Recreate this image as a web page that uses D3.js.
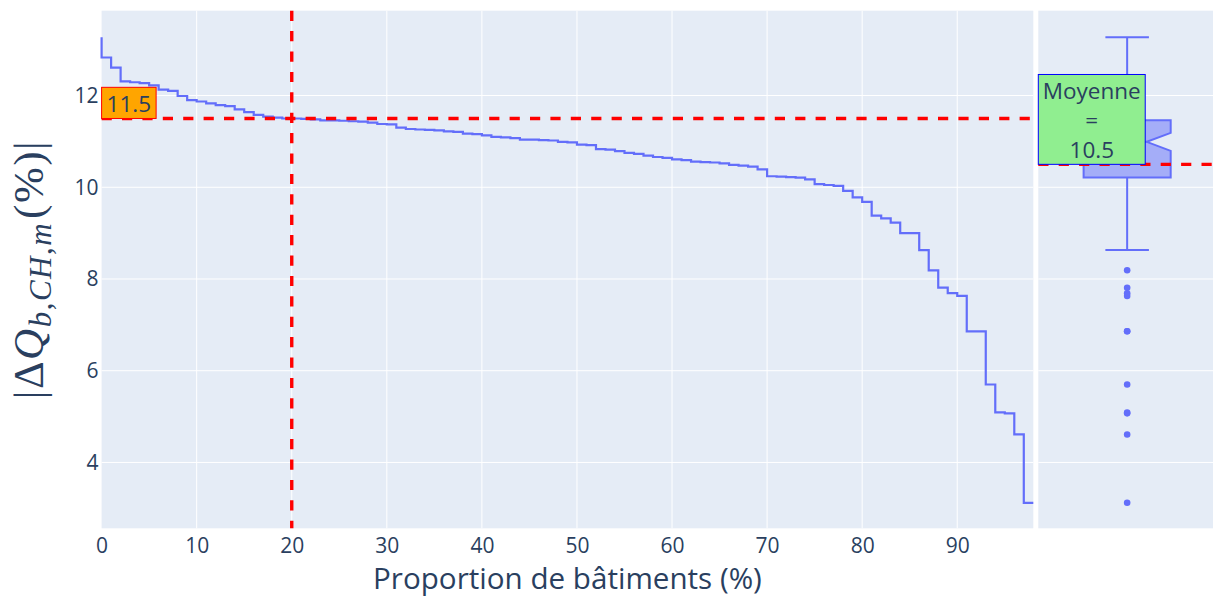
<!DOCTYPE html>
<html><head><meta charset="utf-8">
<script src="https://cdn.jsdelivr.net/npm/d3@7"></script>
<style>
body{margin:0;background:#fff}
svg{display:block}
text{font-family:"Open Sans",verdana,arial,sans-serif;fill:#2a3f5f}
</style>
</head><body>
<svg id="chart" width="1213" height="598"></svg>
<script>
// ---------- data ----------
// building rank (percent of buildings), 0..98
const buildingPct = d3.range(0, 99);
// |ΔQ| (%) for each building, sorted descending (level reached at each rank)
const deltaQ = [
  13.27, 12.83, 12.61, 12.31, 12.29, 12.27, 12.22, 12.13, 12.10, 11.99,
  11.90, 11.87, 11.83, 11.79, 11.77, 11.70, 11.64, 11.58, 11.54, 11.52,
  11.50, 11.50, 11.49, 11.48, 11.46, 11.46, 11.45, 11.44, 11.43, 11.41,
  11.38, 11.37, 11.30, 11.27, 11.26, 11.25, 11.24, 11.22, 11.21, 11.17,
  11.16, 11.13, 11.10, 11.09, 11.07, 11.04, 11.04, 11.03, 11.02, 10.99,
  10.98, 10.93, 10.92, 10.83, 10.82, 10.79, 10.75, 10.73, 10.69, 10.66,
  10.64, 10.61, 10.59, 10.56, 10.55, 10.54, 10.52, 10.49, 10.47, 10.45,
  10.39, 10.24, 10.23, 10.22, 10.21, 10.17, 10.07, 10.05, 10.03, 9.92,
  9.78, 9.68, 9.38, 9.32, 9.23, 9.00, 9.00, 8.63, 8.19, 7.81,
  7.69, 7.63, 6.86, 6.86, 5.70, 5.09, 5.07, 4.61, 3.12
];
const xTicks = [0, 10, 20, 30, 40, 50, 60, 70, 80, 90];
const yTicks = [4, 6, 8, 10, 12];
const xDomain = [0, 98];
const yDomain = [2.564, 13.85];
const refPct = 20;                       // vertical reference (20 % of buildings)
const xTitle = "Proportion de bâtiments (%)";
const meanLabel = "Moyenne";

// ---------- layout ----------
const W = 1213, H = 598;
const M = {left: 101.6, right: 1033.3, top: 10.7, bottom: 528.3};
const B = {left: 1038.3, right: 1216};
const C = {bg: "#E5ECF6", grid: "#ffffff", line: "#636efa", red: "#ff0000"};

const svg = d3.select("#chart");
const x = d3.scaleLinear().domain(xDomain).range([M.left, M.right]);
const y = d3.scaleLinear().domain(yDomain).range([M.bottom, M.top]);
const xb = d3.scaleLinear().domain([-0.5, 0.5]).range([B.left, B.right]);

// backgrounds
svg.append("rect").attr("x", M.left).attr("y", M.top)
  .attr("width", M.right - M.left).attr("height", M.bottom - M.top).attr("fill", C.bg);
svg.append("rect").attr("x", B.left).attr("y", M.top)
  .attr("width", B.right - B.left).attr("height", M.bottom - M.top).attr("fill", C.bg);

// grids
const grid = svg.append("g");
grid.selectAll(".xg").data(xTicks.filter(t => t > xDomain[0])).join("line")
  .attr("x1", d => x(d)).attr("x2", d => x(d)).attr("y1", M.top).attr("y2", M.bottom)
  .attr("stroke", C.grid).attr("stroke-width", 1);
grid.selectAll(".yg").data(yTicks).join("line")
  .attr("x1", M.left).attr("x2", M.right).attr("y1", d => y(d)).attr("y2", d => y(d))
  .attr("stroke", C.grid).attr("stroke-width", 1);
grid.selectAll(".ybg").data(yTicks).join("line")
  .attr("x1", B.left).attr("x2", B.right).attr("y1", d => y(d)).attr("y2", d => y(d))
  .attr("stroke", C.grid).attr("stroke-width", 1);

// axes (labels only, like plotly)
const xAxis = d3.axisBottom(x).tickValues(xTicks).tickSize(0).tickPadding(10);
svg.append("g").attr("transform", `translate(0,${M.bottom})`).call(xAxis)
  .call(g => g.select(".domain").remove())
  .call(g => g.selectAll("text").attr("font-size", 21).attr("fill", "#2a3f5f")
    .attr("font-family", '"Open Sans",verdana,arial,sans-serif'));
const yAxis = d3.axisLeft(y).tickValues(yTicks).tickSize(0).tickPadding(3);
svg.append("g").attr("transform", `translate(${M.left},0)`).call(yAxis)
  .call(g => g.select(".domain").remove())
  .call(g => g.selectAll("text").attr("font-size", 21).attr("fill", "#2a3f5f")
    .attr("font-family", '"Open Sans",verdana,arial,sans-serif'));

// x title
svg.append("text").attr("x", (M.left + M.right) / 2).attr("y", 589)
  .attr("text-anchor", "middle").attr("font-size", 29.6).text(xTitle);

// y title (math-like)
const yt = svg.append("text")
  .attr("transform", `translate(43,${(M.top + M.bottom) / 2}) rotate(-90)`)
  .attr("text-anchor", "middle").attr("letter-spacing", 1.5)
  .style("font-family", '"Liberation Serif","DejaVu Serif",serif').attr("font-size", 43);
yt.append("tspan").text("|Δ");
yt.append("tspan").attr("font-style", "italic").text("Q");
yt.append("tspan").attr("font-style", "italic").attr("font-size", 31).attr("dy", 8).text("b");
yt.append("tspan").attr("font-size", 31).text(",");
yt.append("tspan").attr("font-style", "italic").attr("font-size", 31).text("CH");
yt.append("tspan").attr("font-size", 31).text(",");
yt.append("tspan").attr("font-style", "italic").attr("font-size", 31).text("m");
yt.append("tspan").attr("dy", -8).attr("dx", 3).text("(%)|");

// ---------- step curve ----------
const pts = buildingPct.map((p, i) => [p, deltaQ[i]]);
svg.append("path").datum(pts)
  .attr("d", d3.line().x(d => x(d[0])).y(d => y(d[1])).curve(d3.curveStepBefore))
  .attr("fill", "none").attr("stroke", C.line).attr("stroke-width", 2.2)
  .attr("stroke-linejoin", "miter");

// ---------- box plot ----------
const n = deltaQ.length;
const sorted = deltaQ.slice().sort(d3.ascending);
const q1 = d3.quantile(sorted, 0.25), med = d3.quantile(sorted, 0.5), q3 = d3.quantile(sorted, 0.75);
const iqr = q3 - q1;
const lo = d3.min(sorted.filter(v => v >= q1 - 1.5 * iqr));
const hi = d3.max(sorted.filter(v => v <= q3 + 1.5 * iqr));
const outliers = sorted.filter(v => v < lo || v > hi);
const notch = 1.57 * iqr / Math.sqrt(n);
const meanVal = Math.round(d3.mean(deltaQ) * 10) / 10;

const cx = xb(0), hw = xb(0.245) - xb(0), nw = 0.45, capW = hw * 0.5;
const boxPath =
  `M${cx - hw},${y(q1)}V${y(med - notch)}L${cx - hw * nw},${y(med)}L${cx - hw},${y(med + notch)}` +
  `V${y(q3)}H${cx + hw}V${y(med + notch)}L${cx + hw * nw},${y(med)}L${cx + hw},${y(med - notch)}` +
  `V${y(q1)}Z`;
const bx = svg.append("g");
bx.append("path")
  .attr("d", `M${cx},${y(q3)}V${y(hi)}M${cx - capW},${y(hi)}H${cx + capW}` +
             `M${cx},${y(q1)}V${y(lo)}M${cx - capW},${y(lo)}H${cx + capW}`)
  .attr("fill", "none").attr("stroke", C.line).attr("stroke-width", 2);
bx.append("path").attr("d", boxPath)
  .attr("fill", "rgba(99,110,250,0.5)").attr("stroke", C.line).attr("stroke-width", 2)
  .attr("stroke-linejoin", "miter");
bx.append("path").attr("d", `M${cx - hw * nw},${y(med)}H${cx + hw * nw}`)
  .attr("stroke", C.line).attr("stroke-width", 2);
bx.selectAll("circle").data(outliers).join("circle")
  .attr("cx", cx).attr("cy", d => y(d)).attr("r", 3.3).attr("fill", C.line);

// ---------- reference lines ----------
const refVal = deltaQ[buildingPct.indexOf(refPct)];
const dash = "10.2,10.2";
svg.append("line").attr("x1", M.left).attr("x2", M.right)
  .attr("y1", y(refVal)).attr("y2", y(refVal))
  .attr("stroke", C.red).attr("stroke-width", 3.4).attr("stroke-dasharray", dash);
svg.append("line").attr("x1", x(refPct)).attr("x2", x(refPct))
  .attr("y1", M.top).attr("y2", M.bottom)
  .attr("stroke", C.red).attr("stroke-width", 3.4).attr("stroke-dasharray", dash);
svg.append("line").attr("x1", B.left).attr("x2", B.right)
  .attr("y1", y(meanVal)).attr("y2", y(meanVal))
  .attr("stroke", C.red).attr("stroke-width", 3.4).attr("stroke-dasharray", dash);

// ---------- annotations ----------
function annot(x0, yBottom, lines, fill, stroke, fs, lh, pad, topPad) {
  const g = svg.append("g");
  const rect = g.append("rect");
  const t = g.append("text").attr("font-size", fs).attr("text-anchor", "middle");
  lines.forEach((s, i) => t.append("tspan").attr("x", 0).attr("dy", i ? lh : 0).text(s));
  const bb = t.node().getBBox();
  const w = bb.width + 2 * pad;
  const h = topPad + (lines.length - 1) * lh + (fs * 0.3);
  rect.attr("x", x0).attr("y", yBottom - h).attr("width", w).attr("height", h)
    .attr("fill", fill).attr("stroke", stroke).attr("stroke-width", 1);
  t.attr("transform", `translate(${x0 + w / 2},${yBottom - h + topPad})`);
}
annot(M.left, y(refVal), [refVal.toFixed(1)], "#FFA500", C.red, 22.5, 29, 5, 24.4);
annot(B.left, y(meanVal), [meanLabel, "=", meanVal.toFixed(1)], "#90EE90", "#0000ff", 22.5, 29.2, 4.5, 24.7);
</script>
</body></html>
